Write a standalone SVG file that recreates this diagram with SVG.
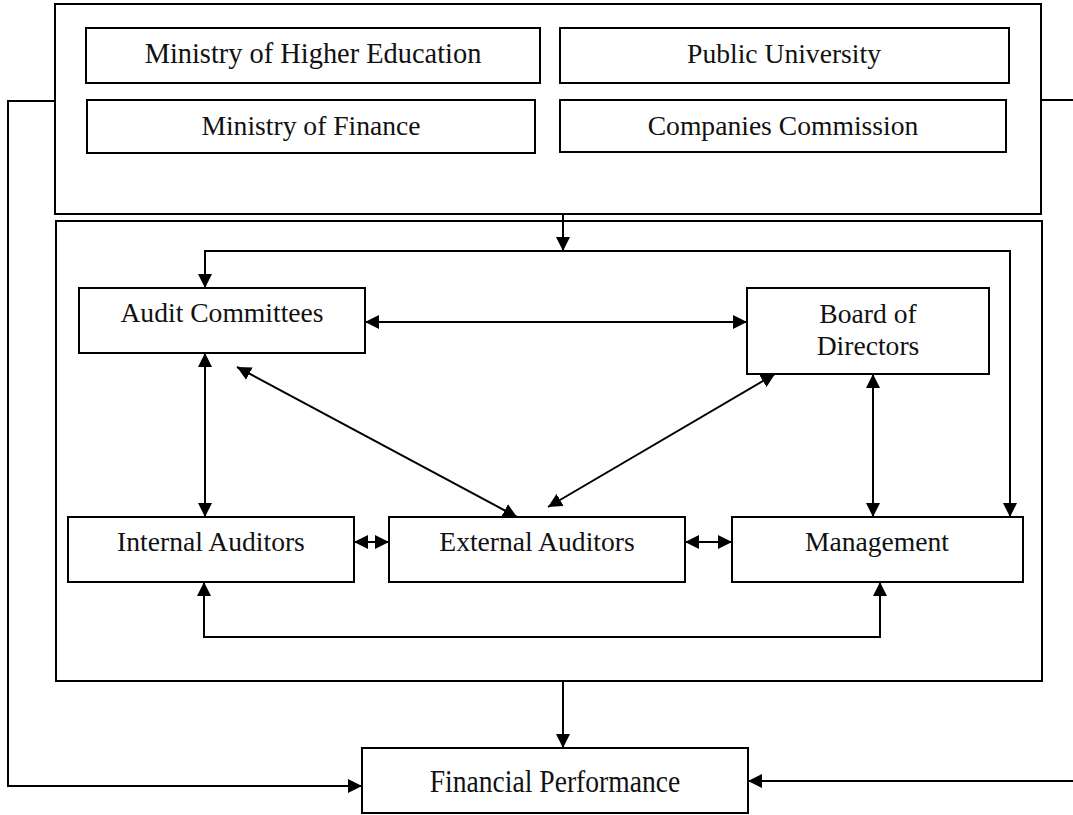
<svg xmlns="http://www.w3.org/2000/svg" width="1073" height="815" viewBox="0 0 1073 815">
  <style>
    .box { fill: #fff; stroke: #000; stroke-width: 2; }
    .frame { fill: none; stroke: #000; stroke-width: 2; }
    .line { fill: none; stroke: #000; stroke-width: 2; }
    .arr { marker-end: url(#head); }
    .arr2 { marker-start: url(#head); marker-end: url(#head); }
    text { font-family: "Liberation Serif", "Times New Roman", serif; font-size: 27.6px; fill: #111; text-anchor: middle; }
  </style>
  <defs>
    <marker id="head" viewBox="0 0 14 14" markerWidth="14" markerHeight="14" refX="14" refY="7" orient="auto-start-reverse" markerUnits="userSpaceOnUse">
      <path d="M0,0 L14,7 L0,14 z" fill="#000"/>
    </marker>
  </defs>
  <rect width="1073" height="815" fill="#fff"/>

  <!-- context frame -->
  <g id="context">
    <rect class="frame" x="55" y="4" width="986" height="210"/>
    <g id="ministry-higher-education">
      <rect class="box" x="86" y="28" width="454" height="55"/>
      <text x="313" y="63" style="font-size:28.4px">Ministry of Higher Education</text>
    </g>
    <g id="public-university">
      <rect class="box" x="560" y="28" width="449" height="55"/>
      <text x="784" y="63">Public University</text>
    </g>
    <g id="ministry-finance">
      <rect class="box" x="87" y="100" width="448" height="53"/>
      <text x="311" y="135">Ministry of Finance</text>
    </g>
    <g id="companies-commission">
      <rect class="box" x="560" y="100" width="446" height="52"/>
      <text x="783" y="135">Companies Commission</text>
    </g>
  </g>

  <!-- governance frame -->
  <g id="governance">
    <rect class="frame" x="56" y="221" width="986" height="460"/>
  </g>

  <g id="audit-committees">
    <rect class="box" x="79" y="288" width="286" height="65"/>
    <text x="222" y="322">Audit Committees</text>
  </g>
  <g id="board-of-directors">
    <rect class="box" x="747" y="288" width="242" height="86"/>
    <text x="868" y="323">Board of</text>
    <text x="868" y="355">Directors</text>
  </g>
  <g id="internal-auditors">
    <rect class="box" x="68" y="517" width="286" height="65"/>
    <text x="211" y="551">Internal Auditors</text>
  </g>
  <g id="external-auditors">
    <rect class="box" x="389" y="517" width="296" height="65"/>
    <text x="537" y="551">External Auditors</text>
  </g>
  <g id="management">
    <rect class="box" x="732" y="517" width="291" height="65"/>
    <text x="877" y="551">Management</text>
  </g>
  <g id="financial-performance">
    <rect class="box" x="362" y="748" width="386" height="65"/>
    <text transform="translate(555,792) scale(1,1.18)" x="0" y="0">Financial Performance</text>
  </g>

  <g id="connectors">
    <!-- context to governance -->
    <line class="line arr" x1="563" y1="215" x2="563" y2="251"/>
    <polyline class="line arr" points="563,251 205,251 205,288"/>
    <polyline class="line arr" points="563,251 1010,251 1010,517"/>
    <!-- relationships inside governance -->
    <line class="line arr2" x1="365" y1="322" x2="747" y2="322"/>
    <line class="line arr2" x1="205" y1="353" x2="205" y2="517"/>
    <line class="line arr2" x1="873" y1="374" x2="873" y2="517"/>
    <line class="line arr2" x1="237" y1="367" x2="517" y2="517"/>
    <line class="line arr2" x1="775" y1="374" x2="548" y2="507"/>
    <line class="line arr2" x1="354" y1="542" x2="389" y2="542"/>
    <line class="line arr2" x1="685" y1="542" x2="732" y2="542"/>
    <polyline class="line arr2" points="204,582 204,637 880,637 880,582"/>
    <!-- to financial performance -->
    <line class="line arr" x1="563" y1="681" x2="563" y2="748"/>
    <polyline class="line arr" points="55,101 8,101 8,786 362,786"/>
    <line class="line" x1="1041" y1="100" x2="1073" y2="100"/>
    <line class="line arr" x1="1073" y1="781" x2="748" y2="781"/>
  </g>
</svg>
